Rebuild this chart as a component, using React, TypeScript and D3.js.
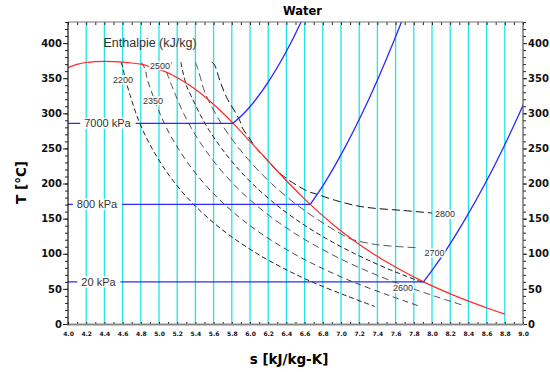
import React, { useEffect, useRef } from "react";
import * as d3 from "d3";

// axis ticks
const sTickLabels = ["4.0", "4.2", "4.4", "4.6", "4.8", "5.0", "5.2", "5.4", "5.6", "5.8", "6.0", "6.2", "6.4",
    "6.6", "6.8", "7.0", "7.2", "7.4", "7.6", "7.8", "8.0", "8.2", "8.4", "8.6", "8.8", "9.0"];
const tTickLabels = ["0", "50", "100", "150", "200", "250", "300", "350", "400"];

// saturation dome [s kJ/kg-K, T °C]
const satDome = [
    [4.0, 365], [4.11, 370], [4.2, 372.3], [4.3, 373.5], [4.407, 373.95], [4.5, 373.6], [4.6, 372.8],
    [4.7, 371.6], [4.8, 370], [4.93, 365], [5.053, 360], [5.211, 350], [5.336, 340], [5.443, 330],
    [5.536, 320], [5.705, 300], [5.857, 280], [5.999, 260], [6.143, 240], [6.285, 220], [6.43, 200],
    [6.584, 180], [6.749, 160], [6.928, 140], [7.128, 120], [7.354, 100], [7.612, 80], [7.907, 60],
    [8.256, 40], [8.666, 20], [8.8, 14],
];

// isobars: saturation temperature and superheated branch
const isobarNames = ["7000 kPa", "800 kPa", "20 kPa"];
const isobarTsat = [285.8, 170.4, 60.1];
const isobarLabelS = [4.434, 4.319, 4.335];
const p7000 = [[5.813, 285.8], [5.934, 300], [6.228, 350], [6.448, 400], [6.633, 450]];
const p800 = [[6.662, 170.4], [6.816, 200], [7.038, 250], [7.233, 300], [7.409, 350], [7.572, 400], [7.725, 450]];
const p20 = [[7.907, 60.1], [8.02, 80], [8.128, 100], [8.368, 150], [8.584, 200], [8.78, 250], [8.961, 300], [9.13, 350]];

// isenthalps (kJ/kg)
const hValues = ["2200", "2350", "2500", "2600", "2700", "2800"];
const h2200 = [[4.585, 372.5], [4.6, 366], [4.628, 350], [4.684, 325], [4.747, 300], [4.825, 275], [4.924, 250],
    [5.04, 225], [5.179, 200], [5.346, 175], [5.547, 150], [5.789, 125], [6.08, 100], [6.357, 80], [6.68, 60],
    [7.063, 40], [7.37, 25]];
const h2350 = [[4.81, 372], [4.85, 362], [4.868, 350], [4.934, 325], [5.009, 300], [5.099, 275], [5.21, 250],
    [5.341, 225], [5.496, 200], [5.681, 175], [5.901, 150], [6.165, 125], [6.482, 100], [6.782, 80], [7.13, 60],
    [7.542, 40], [7.87, 25]];
const h2500 = [[5.14, 373], [5.11, 364], [5.09, 358], [5.109, 350], [5.185, 325], [5.27, 300], [5.373, 275],
    [5.497, 250], [5.642, 225], [5.813, 200], [6.015, 175], [6.256, 150], [6.542, 125], [6.884, 100], [7.206, 80],
    [7.581, 60], [8.021, 40], [8.37, 25.5]];
const h2600 = [[5.24, 373], [5.26, 360], [5.28, 350], [5.299, 340], [5.352, 325], [5.445, 300], [5.555, 275],
    [5.688, 250], [5.843, 225], [6.024, 200], [6.239, 175], [6.492, 150], [6.793, 125], [7.152, 100], [7.489, 80],
    [7.678, 70], [7.882, 60], [7.93, 58]];
const h2700 = [[5.4, 373], [5.43, 362], [5.455, 351], [5.49, 335], [5.536, 320.6], [5.619, 300], [5.737, 275],
    [5.879, 250], [6.044, 225], [6.236, 200], [6.462, 175], [6.729, 150], [7.044, 125], [7.12, 120.5], [7.3, 115],
    [7.42, 112.5], [7.6, 110.5], [7.84, 108.5]];
const h2800 = [[5.58, 373], [5.61, 369], [5.67, 346], [5.742, 323], [5.883, 291], [5.917, 279], [5.985, 266],
    [6.07, 250], [6.14, 240], [6.21, 230], [6.28, 220], [6.343, 213], [6.436, 204], [6.634, 189], [6.73, 185],
    [6.94, 176], [7.166, 168.5], [7.35, 165], [7.667, 161.8], [8.0, 158]];
const hLabelAt = [[4.604, 347.7], [4.934, 317.8], [5.011, 367.6], [7.681, 50.9], [8.027, 101.2], [8.143, 156]];

const App = () => {
    const svgRef = useRef(null);

    useEffect(() => {
        document.body.style.margin = "0";
        const svg = d3.select(svgRef.current);
        svg.selectAll("*").remove();

        const x = d3.scaleLinear().domain([4, 9]).range([68, 523]);
        const y = d3.scaleLinear().domain([0, 430]).range([324, 22]);
        const boldFont = "'DejaVu Sans', sans-serif";
        const textFont = "'Liberation Sans', Arial, sans-serif";

        svg.append("rect").attr("width", 550).attr("height", 372).attr("fill", "#fff");
        svg.append("defs").append("clipPath").attr("id", "plotClip")
            .append("rect").attr("x", 68).attr("y", 22).attr("width", 455).attr("height", 302);

        // cyan grid
        svg.append("g")
            .selectAll("line")
            .data(sTickLabels.slice(1, -1).map(Number))
            .join("line")
            .attr("x1", (d) => x(d)).attr("x2", (d) => x(d))
            .attr("y1", y(430)).attr("y2", y(0))
            .attr("stroke", "#22e3ee").attr("stroke-width", 1.3);

        const plot = svg.append("g").attr("clip-path", "url(#plotClip)");
        const line = d3.line().x((d) => x(d[0])).y((d) => y(d[1]));

        // isenthalps
        const hLines = [h2200, h2350, h2500, h2600, h2700, h2800];
        const dashColors = ["#222", "#444", "#555", "#222", "#555", "#111"];
        const dashes = ["5,3", "6,4", "7,4", "5,3", "8,4", "8,4"];
        hLines.forEach((pts, i) => {
            plot.append("path")
                .attr("d", line.curve(d3.curveCatmullRom.alpha(0.5))(pts))
                .attr("fill", "none")
                .attr("stroke", dashColors[i])
                .attr("stroke-width", 1)
                .attr("stroke-dasharray", dashes[i]);
        });

        // saturation dome
        plot.append("path")
            .attr("d", line.curve(d3.curveMonotoneX)(satDome))
            .attr("fill", "none").attr("stroke", "#ff2a2a").attr("stroke-width", 1.2);

        // isobars
        [p7000, p800, p20].forEach((pts, i) => {
            plot.append("path")
                .attr("d", line.curve(d3.curveLinear)([[4.0, isobarTsat[i]], pts[0]]))
                .attr("fill", "none").attr("stroke", "#2a2aff").attr("stroke-width", 1.3);
            plot.append("path")
                .attr("d", line.curve(d3.curveMonotoneX)(pts))
                .attr("fill", "none").attr("stroke", "#2a2aff").attr("stroke-width", 1.3);
        });

        const addLabel = (txt, cx, cy, size, pad) => {
            const g = svg.append("g");
            const rect = g.append("rect").attr("fill", "#fff");
            const t = g.append("text")
                .attr("x", cx).attr("y", cy)
                .attr("text-anchor", "middle")
                .attr("dominant-baseline", "central")
                .attr("font-family", textFont)
                .attr("font-size", size)
                .attr("fill", "#333")
                .text(txt);
            const bb = t.node().getBBox();
            rect.attr("x", bb.x - pad).attr("y", cy - size * 0.5)
                .attr("width", bb.width + 2 * pad).attr("height", size);
        };

        isobarNames.forEach((n, i) => addLabel(n, x(isobarLabelS[i]), y(isobarTsat[i]), 11, 4));
        hValues.forEach((n, i) => addLabel(n, x(hLabelAt[i][0]), y(hLabelAt[i][1]), 9, 1));

        svg.append("text")
            .attr("x", x(4.39)).attr("y", y(400))
            .attr("dominant-baseline", "central")
            .attr("font-family", textFont).attr("font-size", 12.5).attr("fill", "#333")
            .text("Enthalpie (kJ/kg)");

        // axes
        const tVals = tTickLabels.map(Number);
        const sVals = sTickLabels.map(Number);
        const tMinor = d3.range(0, 431, 10);
        const sMinor = d3.range(40, 91).map((v) => v / 10);

        const styleAxis = (g, size) => {
            g.select(".domain").remove();
            g.selectAll("line").attr("stroke", "#222");
            g.selectAll("text")
                .attr("font-family", boldFont)
                .attr("font-weight", "bold")
                .attr("font-size", size)
                .attr("fill", "#111");
        };

        svg.append("g").attr("transform", "translate(68,0)")
            .call(d3.axisLeft(y).tickValues(tMinor).tickSize(3).tickFormat(() => ""))
            .call((g) => styleAxis(g, 10));
        svg.append("g").attr("transform", "translate(68,0)")
            .call(d3.axisLeft(y).tickValues(tVals).tickSize(5).tickPadding(1).tickFormat((d, i) => tTickLabels[i]))
            .call((g) => styleAxis(g, 10));
        svg.append("g").attr("transform", "translate(523,0)")
            .call(d3.axisRight(y).tickValues(tMinor).tickSize(3).tickFormat(() => ""))
            .call((g) => styleAxis(g, 10));
        svg.append("g").attr("transform", "translate(523,0)")
            .call(d3.axisRight(y).tickValues(tVals).tickSize(4).tickPadding(1).tickFormat((d, i) => tTickLabels[i]))
            .call((g) => styleAxis(g, 10));
        svg.append("g").attr("transform", "translate(0,22)")
            .call(d3.axisTop(x).tickValues(sMinor).tickSize(-3).tickFormat(() => ""))
            .call((g) => styleAxis(g, 6));
        svg.append("g").attr("transform", "translate(0,324)")
            .call(d3.axisBottom(x).tickValues(sMinor).tickSize(-2).tickFormat(() => ""))
            .call((g) => styleAxis(g, 6));
        svg.append("g").attr("transform", "translate(0,324)")
            .call(d3.axisBottom(x).tickValues(sVals).tickSize(0).tickPadding(7.5).tickFormat((d, i) => sTickLabels[i]))
            .call((g) => styleAxis(g, 6));

        // frame
        svg.append("line").attr("x1", 68).attr("x2", 523).attr("y1", 22).attr("y2", 22)
            .attr("stroke", "#777").attr("stroke-width", 1);
        svg.append("line").attr("x1", 523).attr("x2", 523).attr("y1", 22).attr("y2", 324)
            .attr("stroke", "#555").attr("stroke-width", 1.2);
        svg.append("line").attr("x1", 67).attr("x2", 524).attr("y1", 324.5).attr("y2", 324.5)
            .attr("stroke", "#8a8a8a").attr("stroke-width", 2);
        svg.append("line").attr("x1", 68).attr("x2", 68).attr("y1", 22).attr("y2", 325)
            .attr("stroke", "#111").attr("stroke-width", 1.2);

        // titles
        svg.append("text")
            .attr("x", 302.5).attr("y", 15).attr("text-anchor", "middle")
            .attr("font-family", boldFont).attr("font-weight", "bold").attr("font-size", 11.5)
            .text("Water");
        svg.append("text")
            .attr("x", 289).attr("y", 364).attr("text-anchor", "middle")
            .attr("font-family", boldFont).attr("font-weight", "bold").attr("font-size", 13.5)
            .text("s [kJ/kg-K]");
        svg.append("text")
            .attr("transform", "translate(26,182.5) rotate(-90)").attr("text-anchor", "middle")
            .attr("font-family", boldFont).attr("font-weight", "bold").attr("font-size", 13.5)
            .text("T [°C]");
    }, []);

    return <svg ref={svgRef} width={550} height={372} style={{ display: "block" }} />;
};

export default App;
